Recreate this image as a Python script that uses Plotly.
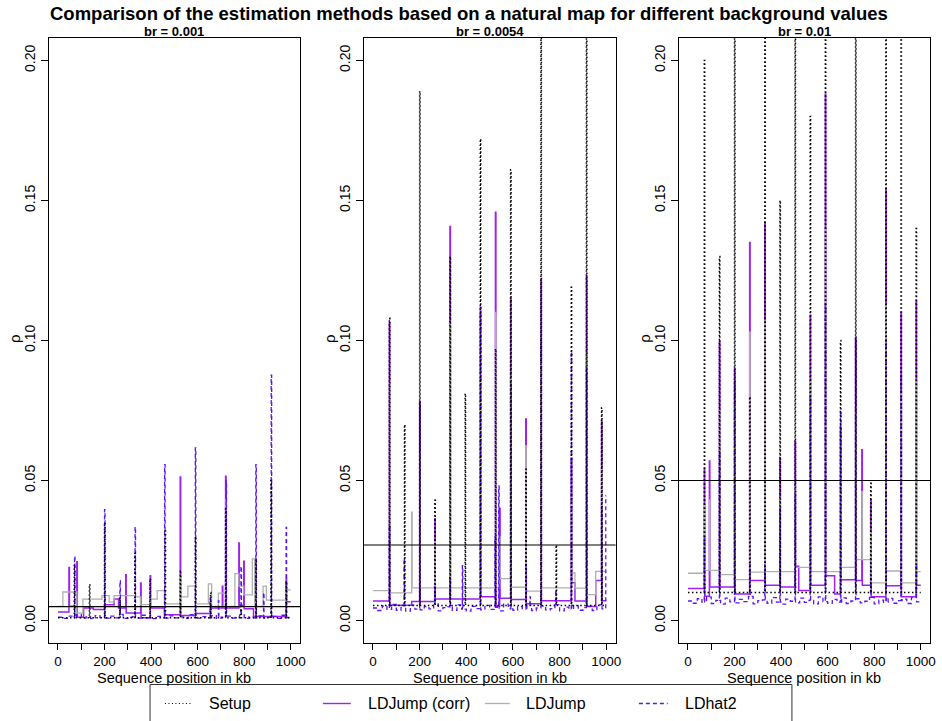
import bisect
import plotly.graph_objects as go

# ---------------------------------------------------------------- data
panel_titles = ["br = 0.001", "br = 0.0054", "br = 0.01"]
background_rates = [0.001, 0.0054, 0.01]
reference_levels = [0.005, 0.027, 0.05]

x_tick_vals = [0, 100, 200, 300, 400, 500, 600, 700, 800, 900, 1000]
x_tick_text = ["0", "", "200", "", "400", "", "600", "", "800", "", "1000"]
y_tick_vals = [0.0, 0.05, 0.10, 0.15, 0.20]
y_tick_text = ["0.00", "0.05", "0.10", "0.15", "0.20"]

legend_labels = ["Setup", "LDJump (corr)", "LDJump", "LDhat2"]

# Setup: background rate with narrow hotspots
hotspot_kb = [70, 135, 200, 265, 330, 395, 460, 525, 590, 655, 720, 785, 850, 915, 980]
hotspot_width_kb = 2
setup_peak_p1 = [0.020, 0.013, 0.035, 0.008, 0.024, 0.015, 0.032, 0.018, 0.030, 0.010,
                 0.040, 0.005, 0.022, 0.050, 0.014]
setup_peak_p2 = [0.108, 0.070, 0.189, 0.043, 0.130, 0.081, 0.172, 0.097, 0.161, 0.054,
                 0.216, 0.027, 0.119, 0.270, 0.076]
setup_peak_p3 = [0.200, 0.130, 0.350, 0.080, 0.240, 0.150, 0.320, 0.180, 0.300, 0.100,
                 0.400, 0.049, 0.220, 0.500, 0.140]

# LDJump (corr): segment starts (kb) and values
ldj_corr_p1_start = [0, 47, 49, 81, 83, 110, 152, 200, 241, 260, 291, 293, 355, 357, 396, 398,
                     457, 525, 527, 590, 656, 706, 708, 720, 722, 777, 779, 798, 800, 840, 980, 982]
ldj_corr_p1_value = [0.0031, 0.0190, 0.0051, 0.0210, 0.0012, 0.0045, 0.0040, 0.0057, 0.0077,
                     0.0045, 0.0164, 0.0027, 0.0134, 0.0010, 0.0160, 0.0045, 0.0021, 0.0513,
                     0.0018, 0.0025, 0.0045, 0.0123, 0.0045, 0.0515, 0.0045, 0.0277, 0.0055,
                     0.0212, 0.0042, 0.0015, 0.0150, 0.0067]
ldj_corr_p2_start = [0, 70, 72, 166, 200, 202, 265, 267, 330, 332, 460, 462, 525, 527, 543, 545,
                     590, 592, 655, 657, 720, 722, 850, 852, 866, 915, 917, 955, 980, 982]
ldj_corr_p2_value = [0.0070, 0.1065, 0.0055, 0.0068, 0.0780, 0.0068, 0.0364, 0.0077, 0.1407,
                     0.0077, 0.1120, 0.0085, 0.1458, 0.0051, 0.0400, 0.0080, 0.1150, 0.0075,
                     0.0720, 0.0060, 0.1220, 0.0071, 0.0580, 0.0135, 0.0070, 0.1230, 0.0050,
                     0.0143, 0.0712, 0.0071]
ldj_corr_p3_start = [0, 70, 72, 92, 94, 135, 137, 200, 202, 265, 267, 330, 332, 395, 397, 460,
                     462, 476, 525, 527, 590, 592, 630, 655, 657, 720, 722, 747, 749, 785, 787,
                     850, 852, 915, 917, 980, 982]
ldj_corr_p3_value = [0.0115, 0.054, 0.0087, 0.057, 0.0120, 0.0996, 0.0120, 0.090, 0.0095,
                     0.135, 0.0143, 0.142, 0.0126, 0.058, 0.0120, 0.064, 0.0194, 0.0107,
                     0.109, 0.0126, 0.188, 0.0160, 0.0095, 0.069, 0.0146, 0.101, 0.0143,
                     0.061, 0.0126, 0.043, 0.0085, 0.154, 0.0124, 0.110, 0.0085, 0.114, 0.0126]

# LDJump (uncorrected)
ldj_p1_start = [0, 21, 81, 107, 189, 220, 241, 331, 355, 398, 426, 457, 525, 527, 558, 590, 646,
                660, 689, 720, 722, 760, 777, 798, 835, 845, 881, 895, 980]
ldj_p1_value = [0.0051, 0.0102, 0.0027, 0.0077, 0.0089, 0.0066, 0.0089, 0.0085, 0.0057, 0.0077,
                0.0107, 0.0060, 0.0160, 0.0085, 0.0123, 0.0060, 0.0131, 0.0051, 0.0098, 0.0430,
                0.0051, 0.0168, 0.0123, 0.0092, 0.0220, 0.0051, 0.0123, 0.0073, 0.0110]
ldj_p2_start = [0, 70, 72, 166, 168, 200, 202, 265, 267, 330, 332, 460, 462, 525, 527, 543, 545,
                590, 592, 655, 657, 720, 722, 850, 852, 866, 915, 917, 955, 980, 982]
ldj_p2_value = [0.0107, 0.0855, 0.0099, 0.0387, 0.0117, 0.0600, 0.0117, 0.0280, 0.0117, 0.1060,
                0.0117, 0.0850, 0.0117, 0.1100, 0.0117, 0.0300, 0.0150, 0.0870, 0.0119, 0.0625,
                0.0105, 0.0930, 0.0117, 0.0440, 0.0170, 0.0116, 0.0950, 0.0093, 0.0176, 0.0540,
                0.0176]
ldj_p3_start = [0, 70, 72, 92, 94, 135, 137, 200, 202, 265, 267, 330, 332, 395, 397, 460, 462,
                525, 527, 590, 592, 655, 657, 720, 722, 747, 749, 785, 787, 850, 852, 915, 917,
                980, 982]
ldj_p3_value = [0.0169, 0.041, 0.0179, 0.043, 0.0179, 0.075, 0.0164, 0.077, 0.0146, 0.103,
                0.0173, 0.107, 0.0175, 0.044, 0.0175, 0.048, 0.0190, 0.086, 0.0175, 0.140,
                0.0175, 0.052, 0.0190, 0.076, 0.0218, 0.046, 0.0218, 0.032, 0.0135, 0.113,
                0.0177, 0.083, 0.0135, 0.086, 0.0175]

# LDhat2: background level per 20 kb window plus peaks
ldhat_window_kb = list(range(0, 1001, 20))
ldhat_base_p1 = [0.0012, 0.0008, 0.0016, 0.0010, 0.0021, 0.0009, 0.0013, 0.0007, 0.0018, 0.0011,
                 0.0009, 0.0016, 0.0010, 0.0022, 0.0008, 0.0012, 0.0014, 0.0009, 0.0019, 0.0010,
                 0.0007, 0.0015, 0.0011, 0.0009, 0.0017, 0.0010, 0.0013, 0.0008, 0.0021, 0.0011,
                 0.0009, 0.0014, 0.0010, 0.0018, 0.0008, 0.0012, 0.0016, 0.0009, 0.0011, 0.0020,
                 0.0008, 0.0013, 0.0010, 0.0017, 0.0009, 0.0012, 0.0015, 0.0008, 0.0019, 0.0011]
ldhat_base_p2 = [0.0045, 0.0036, 0.0052, 0.0040, 0.0058, 0.0037, 0.0047, 0.0034, 0.0055, 0.0041,
                 0.0038, 0.0050, 0.0042, 0.0060, 0.0035, 0.0046, 0.0049, 0.0037, 0.0056, 0.0041,
                 0.0034, 0.0051, 0.0043, 0.0038, 0.0054, 0.0040, 0.0047, 0.0035, 0.0059, 0.0042,
                 0.0037, 0.0050, 0.0041, 0.0055, 0.0036, 0.0045, 0.0052, 0.0038, 0.0043, 0.0057,
                 0.0035, 0.0048, 0.0040, 0.0053, 0.0037, 0.0046, 0.0051, 0.0036, 0.0056, 0.0042]
ldhat_base_p3 = [0.0070, 0.0062, 0.0078, 0.0066, 0.0084, 0.0061, 0.0072, 0.0059, 0.0080, 0.0067,
                 0.0063, 0.0076, 0.0068, 0.0086, 0.0060, 0.0071, 0.0074, 0.0062, 0.0082, 0.0066,
                 0.0059, 0.0077, 0.0069, 0.0063, 0.0080, 0.0065, 0.0072, 0.0060, 0.0085, 0.0068,
                 0.0062, 0.0076, 0.0066, 0.0081, 0.0061, 0.0070, 0.0078, 0.0063, 0.0069, 0.0083,
                 0.0060, 0.0073, 0.0065, 0.0079, 0.0062, 0.0071, 0.0077, 0.0061, 0.0082, 0.0067]
ldhat_peak_p1_kb = [71, 200, 266, 331, 458, 590, 653, 689, 722, 786, 850, 883, 916, 980]
ldhat_peak_p1 = [0.023, 0.0396, 0.0143, 0.0335, 0.0557, 0.0617, 0.008, 0.007, 0.050, 0.0194,
                 0.0557, 0.010, 0.0876, 0.0333]
ldhat_peak_p2_kb = [70, 133, 200, 264, 330, 383, 460, 523, 539, 591, 656, 673, 720, 783, 850,
                    915, 980, 998]
ldhat_peak_p2 = [0.034, 0.022, 0.078, 0.012, 0.0153, 0.0196, 0.110, 0.030, 0.048, 0.085, 0.020,
                 0.0085, 0.100, 0.010, 0.096, 0.090, 0.041, 0.0445]
ldhat_peak_p3_kb = [70, 135, 200, 265, 330, 395, 460, 525, 590, 655, 720, 785, 850, 915, 980]
ldhat_peak_p3 = [0.030, 0.060, 0.085, 0.020, 0.020, 0.040, 0.045, 0.080, 0.113, 0.075, 0.100,
                 0.015, 0.100, 0.088, 0.020]

# ---------------------------------------------------------------- helpers
FONT = "Liberation Sans, Arial, Helvetica, sans-serif"
W, H = 942, 721
SEQ_END = 1000
C_SETUP = "black"
C_CORR = "#A020F0"
C_LDJ = "#B0B0B0"
C_LDHAT = "#5A14F5"
SETUP_DASH = "1.5px,2.5px"
LDHAT_DASH = "4px,3px"


def step_xy(starts, values):
    return list(starts) + [SEQ_END], list(values) + [values[-1]]


def setup_steps(br, peaks):
    starts, vals = [0], [br]
    for h, p in zip(hotspot_kb, peaks):
        starts += [h, h + hotspot_width_kb]
        vals += [p, br]
    return starts, vals


def ldhat_steps(base, peak_kb, peak_val):
    pts = sorted(set(ldhat_window_kb[:-1] + peak_kb + [p + 2 for p in peak_kb]))
    pts = [p for p in pts if p < SEQ_END]
    vals = []
    for x in pts:
        v = None
        for p, h in zip(peak_kb, peak_val):
            if p <= x < p + 2:
                v = h
        if v is None:
            v = base[min(bisect.bisect_right(ldhat_window_kb, x) - 1, len(base) - 1)]
        vals.append(v)
    return pts, vals


panels = [
    dict(setup=setup_peak_p1, corr=(ldj_corr_p1_start, ldj_corr_p1_value),
         ldj=(ldj_p1_start, ldj_p1_value), ldhat=(ldhat_base_p1, ldhat_peak_p1_kb, ldhat_peak_p1)),
    dict(setup=setup_peak_p2, corr=(ldj_corr_p2_start, ldj_corr_p2_value),
         ldj=(ldj_p2_start, ldj_p2_value), ldhat=(ldhat_base_p2, ldhat_peak_p2_kb, ldhat_peak_p2)),
    dict(setup=setup_peak_p3, corr=(ldj_corr_p3_start, ldj_corr_p3_value),
         ldj=(ldj_p3_start, ldj_p3_value), ldhat=(ldhat_base_p3, ldhat_peak_p3_kb, ldhat_peak_p3)),
]

# pixel layout of the three plot boxes
box_left = [49, 366, 683]
box_right = [302, 619.5, 936]
box_top, box_bottom = 38, 643

fig = go.Figure()
layout = dict(
    width=W, height=H, margin=dict(l=0, r=0, t=0, b=0),
    paper_bgcolor="white", plot_bgcolor="white", showlegend=False,
    font=dict(family=FONT, color="black", size=14),
    annotations=[], shapes=[],
)


def px(x):
    return x / W


def py(y):
    return 1 - y / H


for i, pdata in enumerate(panels):
    sfx = "" if i == 0 else str(i + 1)
    xr, yr = "x" + sfx, "y" + sfx
    br = background_rates[i]

    cx, cy = step_xy(*pdata["corr"])
    fig.add_trace(go.Scatter(x=cx, y=cy, mode="lines", line=dict(color=C_CORR, width=1.5, shape="hv"),
                             name=legend_labels[1], xaxis=xr, yaxis=yr))
    gx, gy = step_xy(*pdata["ldj"])
    fig.add_trace(go.Scatter(x=gx, y=gy, mode="lines", line=dict(color=C_LDJ, width=1.3, shape="hv"),
                             name=legend_labels[2], xaxis=xr, yaxis=yr))
    lx, ly = step_xy(*ldhat_steps(*pdata["ldhat"]))
    fig.add_trace(go.Scatter(x=lx, y=ly, mode="lines",
                             line=dict(color=C_LDHAT, width=1.3, shape="hv", dash=LDHAT_DASH),
                             name=legend_labels[3], xaxis=xr, yaxis=yr))
    sx, sy = step_xy(*setup_steps(br, pdata["setup"]))
    fig.add_trace(go.Scatter(x=sx, y=sy, mode="lines",
                             line=dict(color=C_SETUP, width=1.5, shape="hv", dash=SETUP_DASH),
                             name=legend_labels[0], xaxis=xr, yaxis=yr))

    layout["xaxis" + sfx] = dict(
        domain=[px(box_left[i]), px(box_right[i])], range=[-40, 1040], anchor=yr,
        tickmode="array", tickvals=x_tick_vals, ticktext=x_tick_text,
        ticks="outside", ticklen=6, tickwidth=1, tickcolor="black",
        showline=True, linecolor="black", linewidth=1, mirror=True,
        showgrid=False, zeroline=False, tickfont=dict(size=13.5, family=FONT))
    layout["yaxis" + sfx] = dict(
        domain=[py(box_bottom), py(box_top)], range=[-0.008, 0.208], anchor=xr,
        tickmode="array", tickvals=y_tick_vals, ticktext=y_tick_text, tickangle=-90,
        ticks="outside", ticklen=7, tickwidth=1, tickcolor="black",
        showline=True, linecolor="black", linewidth=1, mirror=True,
        showgrid=False, zeroline=False, tickfont=dict(size=14, family=FONT))

    # reference line
    layout["shapes"].append(dict(type="line", xref=xr + " domain", yref=yr, x0=0, x1=1,
                                 y0=reference_levels[i], y1=reference_levels[i],
                                 line=dict(color="black", width=1.1)))
    cxp = (box_left[i] + box_right[i]) / 2
    layout["annotations"] += [
        dict(text="<b>" + panel_titles[i] + "</b>", x=px(cxp), y=py(31.5), xref="paper", yref="paper",
             showarrow=False, xanchor="center", yanchor="middle", font=dict(size=13, family=FONT)),
        dict(text="Sequence position in kb", x=px(cxp), y=py(678), xref="paper", yref="paper",
             showarrow=False, xanchor="center", yanchor="middle", font=dict(size=14.5, family=FONT)),
        dict(text="ρ", x=px(box_left[i] - 35), y=py(338), xref="paper", yref="paper", textangle=-90,
             showarrow=False, xanchor="center", yanchor="middle", font=dict(size=15, family=FONT)),
    ]

# main title
layout["annotations"].append(dict(
    text="<b>Comparison of the estimation methods based on a natural map for different background values</b>",
    x=px(472), y=py(13.5), xref="paper", yref="paper", showarrow=False,
    xanchor="center", yanchor="middle", font=dict(size=18.5, family=FONT)))

# legend box (drawn in page coordinates)
layout["shapes"].append(dict(type="rect", xref="paper", yref="paper", x0=px(151), x1=px(797),
                             y0=py(745), y1=py(684.5), line=dict(color="#333333", width=1),
                             fillcolor="rgba(0,0,0,0)"))
legend_items = [
    (166, 194, 208, dict(color=C_SETUP, width=1, dash="1px,2.5px")),
    (325, 353, 368, dict(color=C_CORR, width=1.4)),
    (488, 513, 527, dict(color=C_LDJ, width=1.3)),
    (643, 672, 687, dict(color=C_LDHAT, width=1.3, dash=LDHAT_DASH)),
]
for (x0, x1, xt, ln), lab in zip(legend_items, legend_labels):
    layout["shapes"].append(dict(type="line", xref="paper", yref="paper", x0=px(x0), x1=px(x1),
                                 y0=py(703.5), y1=py(703.5), line=ln))
    layout["annotations"].append(dict(text=lab, x=px(xt), y=py(703.5), xref="paper", yref="paper",
                                      showarrow=False, xanchor="left", yanchor="middle",
                                      font=dict(size=16, family=FONT)))

fig.update_layout(**layout)
fig.write_html("out.html", config={"displayModeBar": False},
               post_script="document.body.style.margin='0';")
